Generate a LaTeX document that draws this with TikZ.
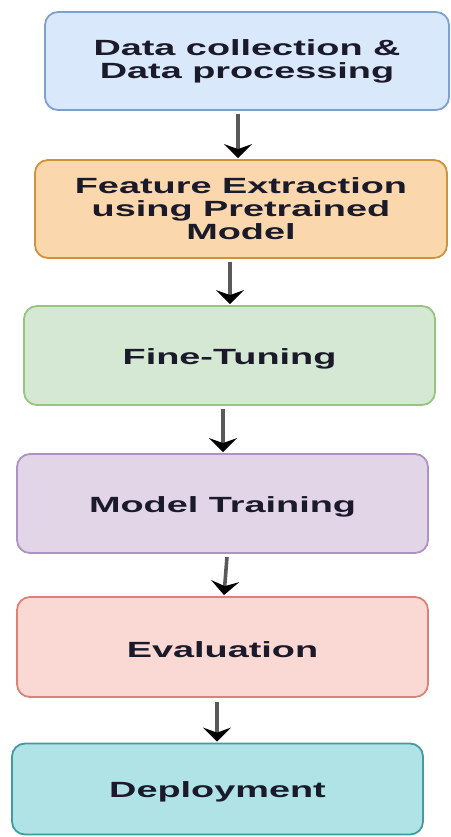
\documentclass[tikz,border=0pt]{standalone}
\usepackage{fontspec}
\setmainfont{Liberation Sans}
\newfontfamily\widefont{Liberation Sans}[FakeStretch=1.72]
\usetikzlibrary{arrows.meta}
\definecolor{f1}{HTML}{DAE8FC}\definecolor{d1}{HTML}{7EA0D0}
\definecolor{f2}{HTML}{FAD7AC}\definecolor{d2}{HTML}{D0933A}
\definecolor{f3}{HTML}{D5E8D4}\definecolor{d3}{HTML}{97C47E}
\definecolor{f4}{HTML}{E1D5E7}\definecolor{d4}{HTML}{AE92C2}
\definecolor{f5}{HTML}{FAD9D5}\definecolor{d5}{HTML}{D98378}
\definecolor{f6}{HTML}{B0E3E6}\definecolor{d6}{HTML}{3E9CA2}
\definecolor{txt}{HTML}{1A1A2A}
\definecolor{arrc}{HTML}{5A5A5A}
\newcommand{\lowtxt}[1]{\raisebox{-3pt}[\height][\depth]{#1}}
\tikzset{
  stepbox/.style={rectangle, rounded corners=13pt, line width=1.8pt, align=center,
    inner sep=0pt, text=txt, font=\widefont\bfseries\fontsize{22}{23}\selectfont},
  arr/.style={draw=arrc, line width=3.6pt, -{Stealth[length=14pt,width=28pt,inset=5pt,color=black]}}
}
\begin{document}
\begin{tikzpicture}[x=1pt,y=1pt]
\useasboundingbox (0,0) rectangle (450,-837);
\node[stepbox, fill=f1, draw=d1, minimum width=404pt, minimum height=98pt] (b1) at (247,-61) {Data collection \&\\Data processing};
\node[stepbox, fill=f2, draw=d2, minimum width=412pt, minimum height=98pt] (b2) at (241,-209) {Feature Extraction\\using Pretrained\\Model};
\node[stepbox, fill=f3, draw=d3, minimum width=411pt, minimum height=99pt] (b3) at (229.5,-355.5) {\lowtxt{Fine-Tuning}};
\node[stepbox, fill=f4, draw=d4, minimum width=411pt, minimum height=99pt] (b4) at (222.5,-503.5) {\lowtxt{Model Training}};
\node[stepbox, fill=f5, draw=d5, minimum width=411pt, minimum height=100pt] (b5) at (222.5,-647) {\lowtxt{Evaluation}};
\node[stepbox, fill=f6, draw=d6, minimum width=411pt, minimum height=91pt] (b6) at (217.5,-789) {\lowtxt{Deployment}};
\draw[arr] ([xshift=-9pt,yshift=-3pt]b1.south) -- ([xshift=-3pt,yshift=1pt]b2.north);
\draw[arr] ([xshift=-11pt,yshift=-3pt]b2.south) -- ([xshift=0.5pt,yshift=1pt]b3.north);
\draw[arr] ([xshift=-6.5pt,yshift=-3pt]b3.south) -- ([xshift=0.5pt,yshift=1pt]b4.north);
\draw[arr] ([xshift=4.5pt,yshift=-3pt]b4.south) -- ([xshift=1.5pt,yshift=1pt]b5.north);
\draw[arr] ([xshift=-5.5pt,yshift=-4pt]b5.south) -- ([xshift=-0.5pt,yshift=1pt]b6.north);
\end{tikzpicture}
\end{document}
